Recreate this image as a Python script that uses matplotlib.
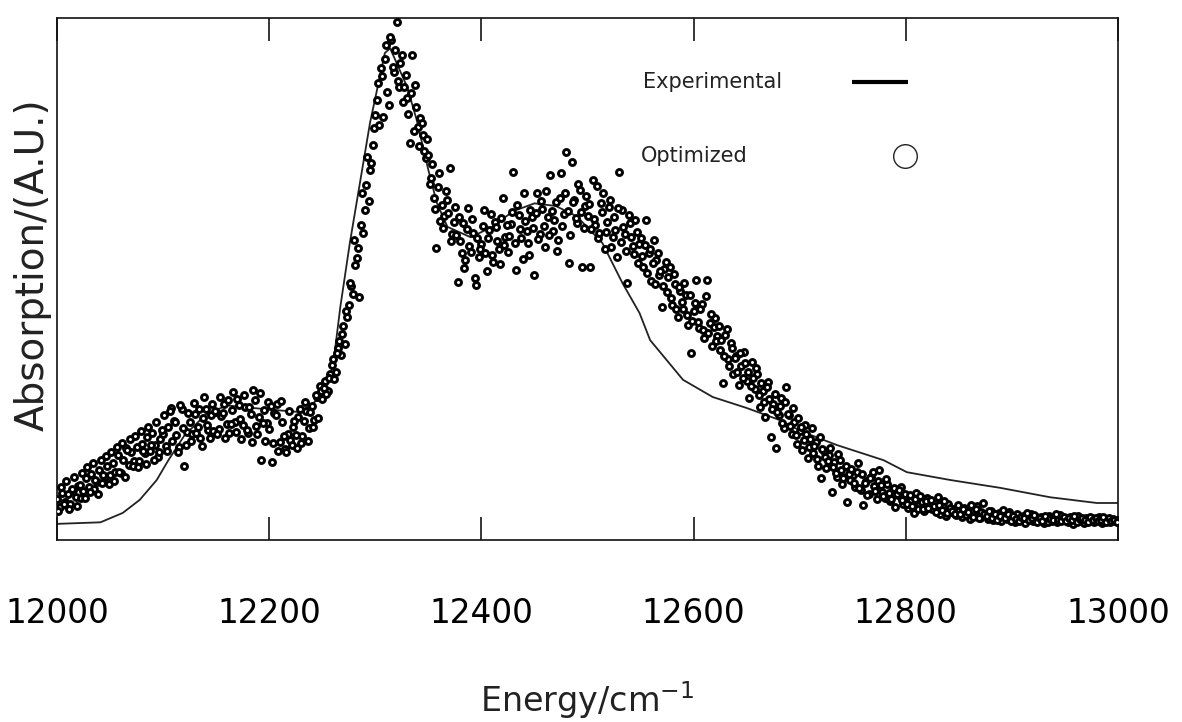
import numpy as np
import matplotlib
matplotlib.use("Agg")
import matplotlib.pyplot as plt

plt.rcParams["font.family"] = ["DejaVu Sans"]

# ── data ──────────────────────────────────────────────────────────────────────
# experimental spectrum (thin line), energy in cm^-1, absorption in A.U. (0..100)
exp_energy = [12000, 12041, 12062, 12078, 12094, 12105, 12120, 12140, 12160,
              12200, 12230, 12245, 12260, 12267, 12276, 12295, 12309, 12314,
              12330, 12339, 12350, 12358, 12368, 12390, 12410, 12430, 12450,
              12470, 12490, 12514, 12533, 12549, 12559, 12590, 12618, 12650,
              12681, 12703, 12735, 12779, 12801, 12842, 12889, 12936, 12980,
              13000]
exp_abs = [3.1, 3.4, 5.2, 7.7, 11.5, 15.3, 20.0, 24.0, 25.8,
           25.0, 24.5, 26.8, 33.1, 44.6, 56.9, 79.9, 93.3, 94.2,
           86.8, 80.5, 70.9, 64.6, 60.0, 58.0, 60.0, 63.0, 64.5,
           64.0, 62.0, 56.9, 49.2, 43.5, 38.3, 30.7, 27.4, 25.3,
           23.0, 20.7, 18.2, 15.3, 13.0, 11.5, 10.0, 8.2, 7.1,
           7.1]

# optimized spectrum (open circles), two interleaved grids, step 2.5 cm^-1
opt_step = 2.5
opt_start_a = 12000.0
opt_abs_a = [
    7.9, 6.4, 9.1, 7.2, 8.8, 6.9, 9.6, 8.3, 10.4, 8.0,
    9.4, 11.8, 10.1, 12.6, 9.8, 11.2, 13.4, 10.9, 12.1, 14.2,
    12.5, 14.8, 13.1, 16.2, 12.9, 15.4, 17.6, 14.3, 16.8, 15.1,
    17.9, 15.2, 18.4, 16.6, 19.8, 17.1, 20.6, 18.2, 15.9, 19.4,
    20.4, 18.1, 21.6, 25.3, 22.8, 20.2, 17.9, 25.1, 14.2, 20.7,
    22.6, 20.3, 24.1, 21.7, 19.6, 23.4, 25.2, 21.1, 23.9, 20.8,
    24.6, 21.2, 23.8, 26.1, 22.3, 20.5, 24.9, 22.7, 27.0, 23.1,
    22.1, 25.4, 20.6, 24.2, 28.7, 21.8, 23.6, 15.3, 25.0, 22.4,
    21.3, 14.9, 24.4, 26.0, 18.8, 22.6, 17.4, 20.4, 19.1, 21.7,
    20.2, 23.5, 18.6, 22.9, 24.8, 21.4, 25.7, 23.0, 27.4, 29.5,
    27.1, 30.4, 28.6, 31.9, 34.7, 32.2, 36.8, 35.4, 41.0, 43.9,
    45.0, 48.6, 57.5, 54.1, 46.5, 66.5, 63.2, 73.4, 70.9, 75.7,
    81.4, 87.5, 90.4, 81.0, 94.8, 83.3, 95.8, 89.7, 99.2, 86.8,
    92.9, 86.8, 84.7, 76.1, 92.9, 87.2, 79.1, 80.8, 77.6, 73.2,
    73.8, 69.3, 65.5, 55.9, 70.3, 64.2, 62.0, 65.1, 71.3, 58.6,
    63.8, 49.4, 57.2, 60.7, 53.6, 63.6, 55.1, 58.9, 48.9, 54.3,
    56.8, 63.2, 51.5, 59.4, 54.7, 61.0, 57.3, 52.8, 65.5, 58.1,
    55.2, 60.6, 70.5, 51.7, 62.3, 57.9, 66.5, 59.2, 54.6, 61.8,
    50.8, 66.5, 58.7, 63.4, 56.1, 61.9, 69.9, 59.3, 64.7, 57.4,
    70.3, 62.5, 74.3, 53.1, 72.4, 65.2, 60.8, 67.1, 52.3, 63.9,
    62.1, 52.3, 69.0, 60.4, 57.8, 64.6, 66.5, 59.1, 63.8, 56.2,
    61.9, 54.2, 70.5, 63.2, 58.6, 49.2, 60.7, 56.3, 61.3, 53.1,
    57.9, 52.4, 61.3, 55.0, 49.7, 57.5, 53.6, 50.8, 44.6, 51.9,
    47.5, 52.3, 45.1, 49.0, 42.7, 47.8, 44.3, 46.9, 41.2, 35.8,
    43.9, 49.8, 40.6, 45.2, 38.7, 49.8, 41.5, 37.2, 42.5, 39.0,
    36.4, 30.1, 39.2, 34.6, 37.8, 31.9, 35.3, 29.7, 33.4, 36.1,
    30.5, 27.3, 34.1, 29.0, 31.8, 25.4, 28.6, 23.6, 30.2, 19.7,
    26.1, 17.6, 23.9, 27.2, 21.4, 29.3, 24.0, 20.3, 22.6, 18.4,
    20.9, 17.3, 22.1, 15.8, 19.4, 16.6, 18.7, 14.2, 11.9, 17.1,
    13.8, 16.2, 9.2, 14.9, 12.1, 15.3, 10.8, 13.0, 7.3, 11.6,
    12.4, 10.1, 14.8, 9.6, 6.7, 11.3, 8.9, 12.0, 10.4, 7.9,
    13.4, 9.3, 8.1, 10.7, 7.4, 9.8, 6.3, 8.6, 10.2, 7.0,
    8.3, 6.1, 7.7, 5.2, 9.0, 6.8, 7.2, 5.6, 8.0, 6.4,
    5.9, 7.1, 8.2, 5.0, 6.3, 4.6, 6.9, 5.4, 6.0, 4.8,
    5.7, 4.4, 6.2, 5.1, 4.0, 5.5, 4.7, 6.5, 4.2, 7.1,
    4.9, 4.1, 5.6, 3.8, 4.5, 5.2, 3.6, 4.8, 4.0, 5.4,
    4.3, 3.5, 4.9, 3.9, 4.6, 3.3, 4.1, 5.0, 3.7, 4.4,
    3.8, 4.5, 3.2, 4.0, 4.7, 3.6, 4.2, 3.4, 4.8, 3.9,
    4.1, 3.5, 4.4, 3.1, 3.9, 4.6, 3.7, 3.3, 4.2, 3.8,
    4.2, 3.4, 3.9, 4.5, 3.2, 3.7, 4.0, 3.5, 4.1, 3.6,
    3.8,
]
opt_start_b = 12001.25
opt_abs_b = [
    5.6, 10.2, 7.0, 11.4, 5.9, 9.8, 12.0, 6.5, 10.6, 12.9,
    8.1, 13.9, 9.2, 14.8, 11.6, 8.9, 15.3, 12.4, 16.1, 10.7,
    16.8, 11.4, 17.9, 13.0, 18.6, 12.1, 17.2, 19.4, 14.1, 20.0,
    13.9, 20.9, 17.0, 14.6, 21.7, 18.3, 15.4, 22.6, 16.9, 21.1,
    23.9, 17.1, 24.8, 19.0, 22.6, 16.8, 25.9, 21.4, 18.2, 24.3,
    18.9, 26.3, 20.6, 25.1, 18.1, 27.4, 22.0, 19.5, 26.0, 24.8,
    20.4, 27.5, 24.3, 19.6, 26.8, 22.2, 28.4, 20.7, 25.9, 19.3,
    27.8, 21.0, 25.4, 18.8, 26.9, 20.3, 28.2, 22.5, 19.0, 26.4,
    25.7, 18.6, 23.9, 17.0, 26.6, 19.9, 16.8, 24.7, 18.3, 22.8,
    17.6, 25.1, 20.0, 26.4, 18.9, 24.6, 21.7, 27.8, 23.3, 28.6,
    29.2, 27.9, 31.0, 33.6, 30.8, 35.9, 38.2, 39.5, 37.6, 42.8,
    49.3, 47.2, 52.7, 56.0, 60.4, 58.8, 68.1, 64.9, 72.2, 78.9,
    84.3, 79.6, 88.9, 92.1, 85.8, 96.3, 90.7, 93.8, 88.0, 91.4,
    83.9, 89.1, 81.7, 85.6, 78.3, 82.9, 75.4, 79.8, 74.6, 76.9,
    68.2, 72.0, 63.4, 67.7, 61.1, 59.8, 66.9, 62.7, 57.3, 60.9,
    58.4, 61.9, 55.0, 52.1, 59.6, 56.4, 61.5, 50.2, 57.9, 55.7,
    60.1, 54.9, 57.8, 62.4, 53.2, 59.9, 55.8, 61.7, 56.5, 60.3,
    58.3, 62.9, 56.9, 64.1, 59.5, 53.8, 61.2, 57.0, 63.3, 59.8,
    62.6, 57.7, 64.9, 60.1, 66.8, 58.5, 63.0, 61.4, 55.3, 65.6,
    60.2, 66.4, 63.1, 58.4, 64.8, 61.7, 68.3, 62.9, 59.7, 66.0,
    64.4, 59.6, 61.5, 67.9, 58.9, 62.8, 55.7, 61.0, 65.2, 58.0,
    59.4, 63.7, 57.1, 60.0, 55.4, 62.2, 58.1, 54.8, 59.0, 56.7,
    54.4, 56.6, 51.2, 55.8, 53.0, 49.1, 54.9, 51.5, 48.6, 53.2,
    50.4, 46.3, 50.9, 44.2, 48.4, 45.6, 49.3, 43.1, 47.0, 42.0,
    45.5, 41.8, 44.3, 40.2, 46.7, 39.6, 43.3, 40.9, 38.2, 41.1,
    38.3, 35.2, 40.4, 33.3, 36.8, 34.9, 32.2, 35.8, 31.1, 33.9,
    32.1, 29.6, 31.0, 33.0, 27.8, 30.0, 26.4, 29.4, 27.0, 25.1,
    27.9, 24.6, 25.7, 22.4, 26.5, 24.2, 21.8, 25.3, 20.1, 23.4,
    21.7, 19.1, 20.3, 17.9, 21.4, 18.1, 15.6, 19.8, 17.5, 16.0,
    15.1, 17.6, 14.0, 12.9, 16.4, 13.5, 11.8, 14.2, 12.6, 13.7,
    11.0, 13.1, 9.9, 12.6, 10.9, 8.6, 11.8, 13.0, 9.4, 11.4,
    10.5, 8.4, 11.7, 9.0, 7.8, 10.0, 8.8, 9.5, 7.6, 8.9,
    7.0, 8.7, 6.6, 7.9, 6.0, 8.4, 5.9, 7.4, 6.2, 7.6,
    6.6, 5.3, 6.8, 5.8, 7.5, 5.1, 6.1, 5.6, 4.9, 6.7,
    5.0, 6.0, 4.8, 5.3, 6.8, 4.5, 5.9, 4.3, 5.4, 5.0,
    4.6, 5.5, 4.3, 5.0, 3.9, 4.7, 5.8, 4.2, 4.9, 3.7,
    4.7, 4.0, 3.6, 4.5, 4.2, 5.1, 3.8, 4.3, 4.8, 3.5,
    4.3, 3.7, 4.6, 3.5, 4.1, 3.8, 4.9, 3.9, 3.6, 4.4,
    3.6, 4.3, 3.8, 4.7, 3.4, 4.0, 4.2, 3.9, 3.5, 4.5,
    3.9, 4.3, 3.6, 3.8, 4.4, 3.5, 4.2, 3.7, 3.9, 3.4,
]
opt_energy = np.concatenate([
    opt_start_a + opt_step * np.arange(len(opt_abs_a)),
    opt_start_b + opt_step * np.arange(len(opt_abs_b)),
])
opt_abs = np.concatenate([opt_abs_a, opt_abs_b])

xticks = [12000, 12200, 12400, 12600, 12800, 13000]

# ── figure ────────────────────────────────────────────────────────────────────
fig = plt.figure(figsize=(11.82, 7.22), dpi=100)
fig.patch.set_facecolor("white")
ax = fig.add_axes([0.0482, 0.252, 0.8977, 0.723])

ax.plot(exp_energy, exp_abs, color="#222222", lw=1.3, zorder=2)
ax.plot(opt_energy, opt_abs, ls="none", marker="o", ms=4.3,
        mfc="white", mec="black", mew=2.1, zorder=3)

ax.set_xlim(12000, 13000)
ax.set_ylim(0, 100)
ax.set_xticks(xticks)
ax.set_xticklabels([str(t) for t in xticks])
ax.set_yticks([])
ax.tick_params(axis="x", direction="in", length=16.5, width=1.1,
               top=True, pad=41, labelsize=23.5, colors="black")
for sp in ax.spines.values():
    sp.set_linewidth(1.2)
    sp.set_color("#111111")

# 图例 (gnuplot 风格: 文字在左, 样例在右)
ax.text(0.552, 0.877, "Experimental", transform=ax.transAxes,
        fontsize=15, color="#222222", ha="left", va="center")
ax.plot([0.749, 0.802], [0.877, 0.877], transform=ax.transAxes,
        color="black", lw=3.0, solid_capstyle="butt")
ax.text(0.550, 0.736, "Optimized", transform=ax.transAxes,
        fontsize=15, color="#222222", ha="left", va="center")
ax.plot([0.799], [0.736], transform=ax.transAxes, ls="none", marker="o",
        ms=17, mfc="white", mec="#222222", mew=1.0)

# axis labels
fig.text(0.4966, 0.031, "Energy/cm$^{-1}$", fontsize=24,
         ha="center", va="center", color="#222222")
fig.text(0.028, 0.634, "Absorption/(A.U.)", fontsize=28, rotation=90,
         ha="center", va="center", color="#222222")

fig.savefig("out.png", dpi=100, facecolor="white")
plt.close(fig)
